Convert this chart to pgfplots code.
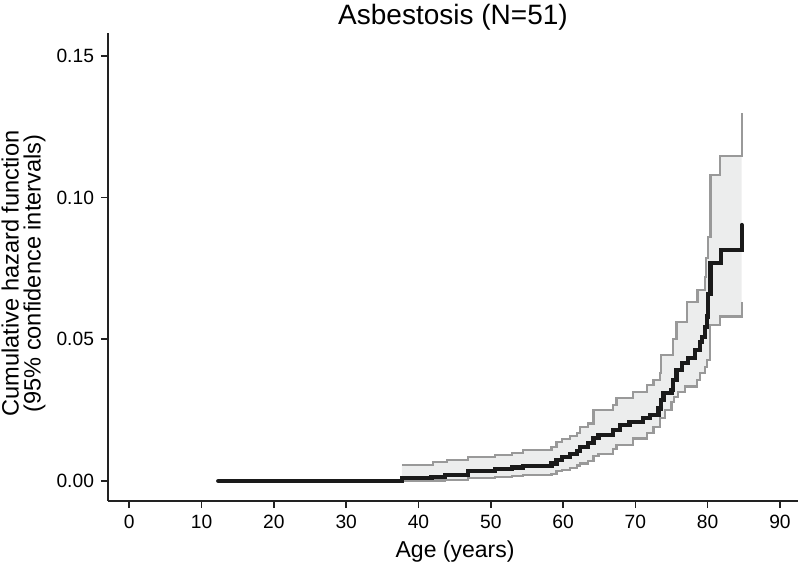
\documentclass[border=0pt]{standalone}
\usepackage{pgfplots}
\pgfplotsset{compat=1.18}
\usepgfplotslibrary{fillbetween}
\usepackage{fontspec}
\setmainfont{Liberation Sans}
\definecolor{ciLine}{HTML}{999999}
\definecolor{ciFill}{HTML}{ECEDED}
\definecolor{mainLine}{HTML}{1A1A1A}
\definecolor{axisCol}{HTML}{222222}

\pgfplotstableread{
x y
12.3 0
37.7 0.001
41.8 0.0015
43.7 0.002
46.8 0.0036
50.6 0.0042
52.9 0.0048
54.5 0.0054
58.4 0.0062
59.1 0.0074
59.8 0.0084
61.0 0.0095
61.9 0.0107
62.3 0.0121
63.5 0.0133
64.2 0.0151
64.9 0.0162
66.9 0.0180
67.9 0.0197
69.2 0.0209
71.1 0.0221
72.0 0.0233
73.2 0.0256
73.6 0.0286
73.9 0.0309
75.0 0.0320
75.2 0.0356
75.7 0.0391
76.4 0.0415
77.3 0.0433
78.2 0.0462
78.9 0.0491
79.2 0.0509
79.6 0.0544
79.9 0.0580
80.1 0.0660
80.4 0.0770
81.9 0.0815
84.7 0.0903
}\mainhaz

\pgfplotstableread{
x y
37.7 0.0056
42.0 0.0068
43.9 0.0074
46.8 0.0084
50.6 0.0092
52.9 0.0100
54.5 0.0109
58.4 0.0121
59.1 0.0139
59.8 0.0147
61.0 0.0159
61.9 0.0170
62.3 0.0191
63.5 0.0203
64.2 0.0250
66.9 0.0268
67.4 0.0292
69.7 0.0315
71.6 0.0338
72.5 0.0356
73.4 0.0380
73.6 0.0444
75.2 0.0500
75.7 0.0562
77.1 0.0632
78.6 0.0673
79.6 0.0720
79.8 0.0786
80.1 0.0861
80.4 0.1079
81.7 0.1146
84.7 0.1297
}\upperci

\pgfplotstableread{
x y
37.7 0.0000
41.8 0.0002
43.7 0.0004
46.8 0.0011
50.6 0.0014
52.9 0.0017
54.5 0.0021
58.4 0.0026
59.1 0.0034
59.8 0.0040
61.0 0.0046
61.9 0.0055
62.3 0.0062
63.5 0.0071
64.2 0.0087
64.9 0.0095
66.9 0.0112
67.4 0.0127
69.7 0.0150
71.6 0.0168
72.5 0.0191
73.4 0.0221
74.1 0.0250
75.0 0.0280
75.4 0.0297
75.9 0.0315
76.9 0.0333
78.5 0.0356
78.9 0.0380
79.6 0.0403
79.9 0.0427
80.3 0.0550
81.7 0.0580
84.7 0.0632
}\lowerci

\begin{document}
\begin{tikzpicture}
\begin{axis}[
  scale only axis,
  width=345pt, height=234pt,
  xmin=-2.95, xmax=92.5,
  ymin=-0.00705, ymax=0.158,
  axis x line=bottom, axis y line=left,
  axis line style={-, line width=0.85pt, color=axisCol},
  xtick={0,10,...,90},
  ytick={0,0.05,0.10,0.15},
  yticklabel style={/pgf/number format/fixed, /pgf/number format/fixed zerofill, /pgf/number format/precision=2},
  /pgf/number format/assume math mode=true,
  scaled y ticks=false,
  tick align=outside,
  major tick length=3.5pt,
  tick style={line width=0.85pt, color=axisCol},
  ticklabel style={font=\fontsize{9.6}{11}\selectfont, color=black},
  every axis title/.style={at={(axis description cs:0.5,1.0171)}, anchor=base, font=\fontsize{14}{16}\selectfont},
  title={Asbestosis (N=51)},
  xlabel={Age (years)},
  xlabel style={at={(axis description cs:0.503,-0.1197)}, anchor=base, font=\fontsize{11.5}{13}\selectfont},
  ylabel={Cumulative hazard function\\(95\% confidence intervals)},
  ylabel style={at={(axis description cs:-0.1225,0.486)}, anchor=center, align=center, font=\fontsize{11.8}{11}\selectfont},
  clip=false,
]
\addplot[name path=upper, const plot, draw=ciLine, line width=1.1pt] table[x=x,y=y] {\upperci};
\addplot[name path=lower, const plot, draw=ciLine, line width=1.1pt] table[x=x,y=y] {\lowerci};
\addplot[fill=ciFill, draw=none] fill between[of=upper and lower];
\addplot[const plot, draw=mainLine, line width=2.1pt, line cap=round] table[x=x,y=y] {\mainhaz};
\end{axis}
\pgfresetboundingbox
\path[use as bounding box] ([shift={(-54pt,-32pt)}]current axis.south west) rectangle ([shift={(1pt,16.5pt)}]current axis.north east);
\end{tikzpicture}
\end{document}
